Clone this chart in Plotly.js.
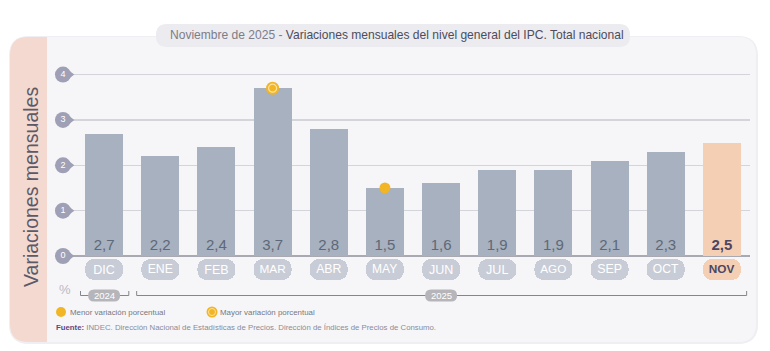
<!DOCTYPE html>
<html><head><meta charset="utf-8">
<script src="https://cdn.plot.ly/plotly-3.0.1.min.js"></script>
<style>html,body{margin:0;padding:0;background:#fff;}#chart{width:770px;height:351px;}</style>
</head><body><div id="chart"></div>
<script>
// ---- data ----
const months = ['DIC','ENE','FEB','MAR','ABR','MAY','JUN','JUL','AGO','SEP','OCT','NOV'];
const values = [2.7, 2.2, 2.4, 3.7, 2.8, 1.5, 1.6, 1.9, 1.9, 2.1, 2.3, 2.5];
const yTicks = [0, 1, 2, 3, 4];
const yearLabels = ['2024', '2025'];
const yearStart = [0, 1];
const yearEnd = [0, 11];
const titleLead = 'Noviembre de 2025 - ';
const titleMain = 'Variaciones mensuales del nivel general del IPC. Total nacional';
const yTitle = 'Variaciones mensuales';
const legendMin = 'Menor variación porcentual';
const legendMax = 'Mayor variación porcentual';
const sourceLabel = 'Fuente:';
const sourceText = 'INDEC. Dirección Nacional de Estadísticas de Precios. Dirección de Índices de Precios de Consumo.';

// ---- geometry helpers ----
const W = 770, H = 351;
const M = {l: 55, r: 20, t: 40, b: 40};
const pw = W - M.l - M.r, ph = H - M.t - M.b;
const xRange = [-0.874, 11.5];
const unitPx = pw / (xRange[1] - xRange[0]);
const X = p => (p - M.l) / pw;
const Y = p => (H - M.b - p) / ph;
const f = v => v.toFixed(5);
function rr(x0, y0, x1, y1, r, c) {
  c = c || [1,1,1,1];
  const a = r*c[0], b = r*c[1], d = r*c[2], e = r*c[3];
  return `M${f(X(x0+a))},${f(Y(y0))} L${f(X(x1-b))},${f(Y(y0))} Q${f(X(x1))},${f(Y(y0))} ${f(X(x1))},${f(Y(y0+b))} ` +
    `L${f(X(x1))},${f(Y(y1-d))} Q${f(X(x1))},${f(Y(y1))} ${f(X(x1-d))},${f(Y(y1))} ` +
    `L${f(X(x0+e))},${f(Y(y1))} Q${f(X(x0))},${f(Y(y1))} ${f(X(x0))},${f(Y(y1-e))} ` +
    `L${f(X(x0))},${f(Y(y0+a))} Q${f(X(x0))},${f(Y(y0))} ${f(X(x0+a))},${f(Y(y0))} Z`;
}

const grayBar = '#a7b1bf', peach = '#f4cfb4';
const last = values.length - 1;
const barColors = values.map((v, i) => i === last ? peach : grayBar);
const pillColors = values.map((v, i) => i === last ? peach : '#c8ccd6');
const valText = values.map((v, i) => {
  const s = v.toFixed(1).replace('.', ',');
  return i === last ? '<b>' + s + '</b>' : s;
});
const monthText = months.map((m, i) => i === last ? '<b>' + m + '</b>' : m);
const xs = months.map((m, i) => i);
const iMax = values.indexOf(Math.max(...values));
const iMin = values.indexOf(Math.min(...values));

const FONT = 'Liberation Sans, Arial, sans-serif';

const traces = [
  {type: 'bar', x: xs, y: values, width: 0.676, marker: {color: barColors},
   text: valText, textposition: 'inside', insidetextanchor: 'start', constraintext: 'none',
   textfont: {size: 15, family: FONT, color: values.map((v, i) => i === last ? '#4b4662' : '#5f6878')},
   hoverinfo: 'skip', cliponaxis: false},
  {type: 'bar', x: xs, y: months.map(() => -1), base: 0, width: 0.676, yaxis: 'y2',
   marker: {color: pillColors, cornerradius: 9},
   text: monthText, textposition: 'inside', insidetextanchor: 'middle', constraintext: 'none',
   textfont: {size: 12.5, family: FONT, color: months.map((m, i) => i === last ? '#4b4662' : '#ffffff')},
   hoverinfo: 'skip'},
  // y tick markers
  {type: 'scatter', mode: 'markers', x: yTicks.map(() => -0.61), y: yTicks,
   marker: {symbol: 'triangle-right', size: 9, color: '#9fa0b5'}, cliponaxis: false, hoverinfo: 'skip'},
  {type: 'scatter', mode: 'markers+text', x: yTicks.map(() => -0.732), y: yTicks,
   text: yTicks.map(String), textposition: 'middle center',
   textfont: {size: 9, color: '#ffffff', family: FONT},
   marker: {symbol: 'circle', size: 16, color: '#9fa0b5'}, cliponaxis: false, hoverinfo: 'skip'},
  // max marker (ring)
  {type: 'scatter', mode: 'markers', x: [iMax], y: [values[iMax]],
   marker: {size: 13, color: '#f1b526'}, cliponaxis: false, hoverinfo: 'skip'},
  {type: 'scatter', mode: 'markers', x: [iMax], y: [values[iMax]],
   marker: {size: 8, color: '#f1b526', line: {color: '#fde3a0', width: 1.2}}, cliponaxis: false, hoverinfo: 'skip'},
  // min marker (solid)
  {type: 'scatter', mode: 'markers', x: [iMin], y: [values[iMin]],
   marker: {size: 11, color: '#f1b526'}, cliponaxis: false, hoverinfo: 'skip'}
];

const shapes = [
  // card
  {type: 'path', xref: 'paper', yref: 'paper', layer: 'below', path: rr(9, 36, 758, 344, 20),
   fillcolor: '#eeeef3', line: {width: 0}},
  {type: 'path', xref: 'paper', yref: 'paper', layer: 'below', path: rr(10, 37, 756, 342, 18),
   fillcolor: '#f6f6f9', line: {width: 0}},
  {type: 'path', xref: 'paper', yref: 'paper', layer: 'below', path: rr(10, 37, 47, 342, 18, [1,0,0,1]),
   fillcolor: '#f3d9d0', line: {width: 0}},
  // title pill
  {type: 'path', xref: 'paper', yref: 'paper', layer: 'above', path: rr(156, 24, 630, 47, 11),
   fillcolor: '#ebebf0', line: {width: 0}}
];
const ann = (px, py, text, font, extra) => Object.assign({
  xref: 'paper', yref: 'paper', x: X(px), y: Y(py), showarrow: false,
  xanchor: 'center', yanchor: 'middle', text: text, font: font}, extra || {});
const annotations = [
  ann(397, 35.5, `<span style="color:#7d7d88">${titleLead}</span>${titleMain}`,
      {size: 12.05, family: FONT, color: '#4d4d5c'}),
  ann(31, 187, yTitle, {size: 19.5, family: FONT, color: '#5b5a68'}, {textangle: -90}),
  ann(65, 289, '%', {size: 13, family: FONT, color: '#b9b9c2'}),
  ann(68, 312, legendMin, {size: 7.9, family: FONT, color: '#77777f'}, {xanchor: 'left'}),
  ann(218, 312, legendMax, {size: 7.9, family: FONT, color: '#77777f'}, {xanchor: 'left'}),
  ann(54, 327, `<span style="color:#5b4a7e"><b>${sourceLabel}</b></span> ${sourceText}`,
      {size: 7.8, family: FONT, color: '#8b8b96'}, {xanchor: 'left'})
];
// legend markers
shapes.push({type: 'circle', xref: 'paper', yref: 'paper', x0: X(56), x1: X(66), y0: Y(317), y1: Y(307),
  fillcolor: '#f1b526', line: {width: 0}});
shapes.push({type: 'circle', xref: 'paper', yref: 'paper', x0: X(206.5), x1: X(217.5), y0: Y(317.5), y1: Y(306.5),
  fillcolor: '#f1b526', line: {width: 0}});
shapes.push({type: 'circle', xref: 'paper', yref: 'paper', x0: X(208.5), x1: X(215.5), y0: Y(315.5), y1: Y(308.5),
  fillcolor: '#f1b526', line: {width: 1, color: '#fde3a0'}});

// year brackets
const yTop = Y(291), yLine = Y(295.5);
const pillHalfW = 16 / unitPx, pillR = 6 / unitPx;
yearLabels.forEach((lab, k) => {
  const a = yearStart[k] - 0.42, b = yearEnd[k] + 0.44;
  shapes.push({type: 'path', xref: 'x', yref: 'paper', layer: 'above',
    path: `M${a},${yTop} L${a},${yLine} L${b},${yLine} L${b},${yTop}`,
    line: {color: '#85858e', width: 1}});
  const c = (yearStart[k] + yearEnd[k]) / 2;
  const x0 = c - pillHalfW, x1 = c + pillHalfW;
  const t = Y(289.5), bo = Y(301.5), rm = Y(295.5);
  shapes.push({type: 'path', xref: 'x', yref: 'paper', layer: 'above',
    path: `M${x0+pillR},${t} L${x1-pillR},${t} Q${x1},${t} ${x1},${rm} Q${x1},${bo} ${x1-pillR},${bo} L${x0+pillR},${bo} Q${x0},${bo} ${x0},${rm} Q${x0},${t} ${x0+pillR},${t} Z`,
    fillcolor: '#b5b5ba', line: {width: 0}});
  annotations.push({xref: 'x', yref: 'paper', x: c, y: Y(295.5), showarrow: false,
    xanchor: 'center', yanchor: 'middle',
    text: lab, font: {size: 9.5, family: FONT, color: '#ffffff'}});
});

const layout = {
  width: W, height: H, margin: M,
  paper_bgcolor: '#ffffff', plot_bgcolor: 'rgba(0,0,0,0)',
  showlegend: false, barmode: 'overlay', bargap: 0,
  font: {family: FONT},
  xaxis: {range: xRange, showticklabels: false, showgrid: false, zeroline: false, fixedrange: true},
  yaxis: {domain: [Y(256), Y(61)], range: [0, 4.3], tickvals: yTicks, showticklabels: false,
    gridcolor: '#d4d4db', gridwidth: 1.5, zeroline: true, zerolinecolor: '#a9a9b2', zerolinewidth: 1.5,
    showline: false, ticks: ''},
  yaxis2: {domain: [Y(280), Y(259)], range: [-1, 0], showticklabels: false, showgrid: false,
    zeroline: false, showline: false, anchor: 'x'},
  shapes: shapes, annotations: annotations
};
Plotly.newPlot('chart', traces, layout, {displayModeBar: false, staticPlot: true});
</script></body></html>
